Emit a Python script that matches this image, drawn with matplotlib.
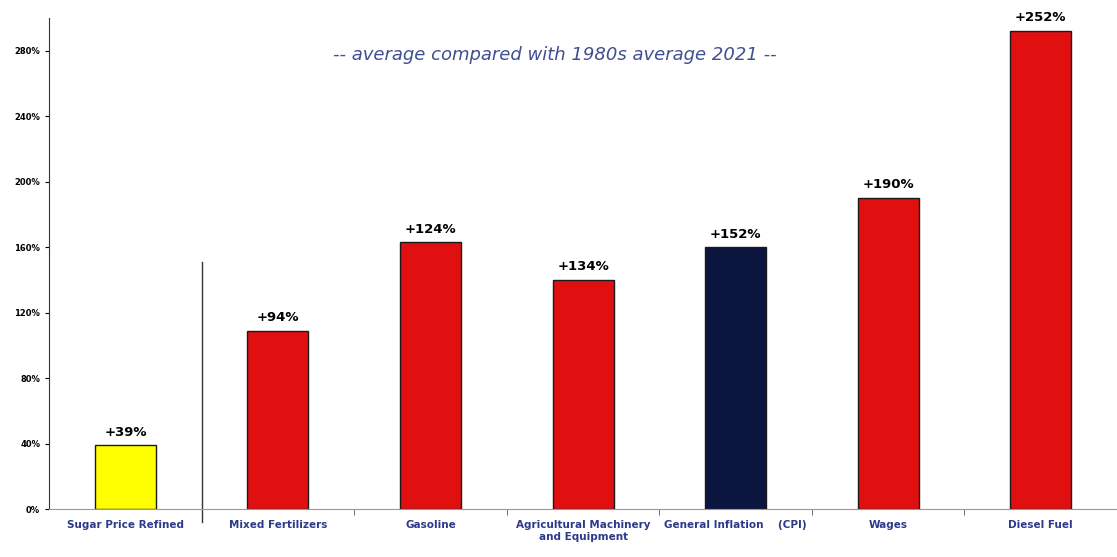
import matplotlib.pyplot as plt

# Data
categories = ["Sugar Price Refined", "Mixed Fertilizers", "Gasoline",
              "Agricultural Machinery\nand Equipment", "General Inflation    (CPI)",
              "Wages", "Diesel Fuel"]
values = [39, 109, 163, 140, 160, 190, 292]
labels = ["+39%", "+94%", "+124%", "+134%", "+152%", "+190%", "+252%"]
colors = ["#ffff00", "#e01010", "#e01010", "#e01010", "#0b1640", "#e01010", "#e01010"]
yticks = [0, 40, 80, 120, 160, 200, 240, 280]

fig = plt.figure(figsize=(11.17, 5.57), dpi=100)
ax = fig.add_axes([0.044, 0.086, 0.956, 0.882])

x = range(len(categories))
ax.bar(x, values, width=0.4, color=colors, edgecolor="#1a1a1a", linewidth=1.0)

for i, (v, lab) in enumerate(zip(values, labels)):
    ax.text(i, v + 4, lab, ha="center", va="bottom", fontsize=9.5,
            fontweight="bold", color="black")

ax.set_xlim(-0.5, 6.5)
ax.set_ylim(0, 300)
ax.set_yticks(yticks)
ax.set_yticklabels([f"{t}%" for t in yticks], fontsize=6, fontweight="bold")
ax.set_xticks(list(x))
ax.set_xticklabels(categories, fontsize=7.5, color="#2b3a8a", fontweight="bold")
ax.tick_params(axis="x", length=0, pad=8)
ax.tick_params(axis="y", length=3, direction="out")

# minor ticks between categories
ax.set_xticks([i + 0.5 for i in range(6)], minor=True)
ax.tick_params(axis="x", which="minor", length=4, direction="out", color="#555555")

for s in ["top", "right"]:
    ax.spines[s].set_visible(False)
ax.spines["left"].set_color("#333333")
ax.spines["bottom"].set_color("#999999")

# separator after sugar
ax.plot([0.5, 0.5], [-8, 151], color="#333333", linewidth=1.0, clip_on=False)

ax.text(0.474, 0.925, "-- average compared with 1980s average 2021 --",
        transform=ax.transAxes, ha="center", va="center", fontsize=13,
        style="italic", color="#3f4f8f")

fig.savefig("out.png", dpi=100)
